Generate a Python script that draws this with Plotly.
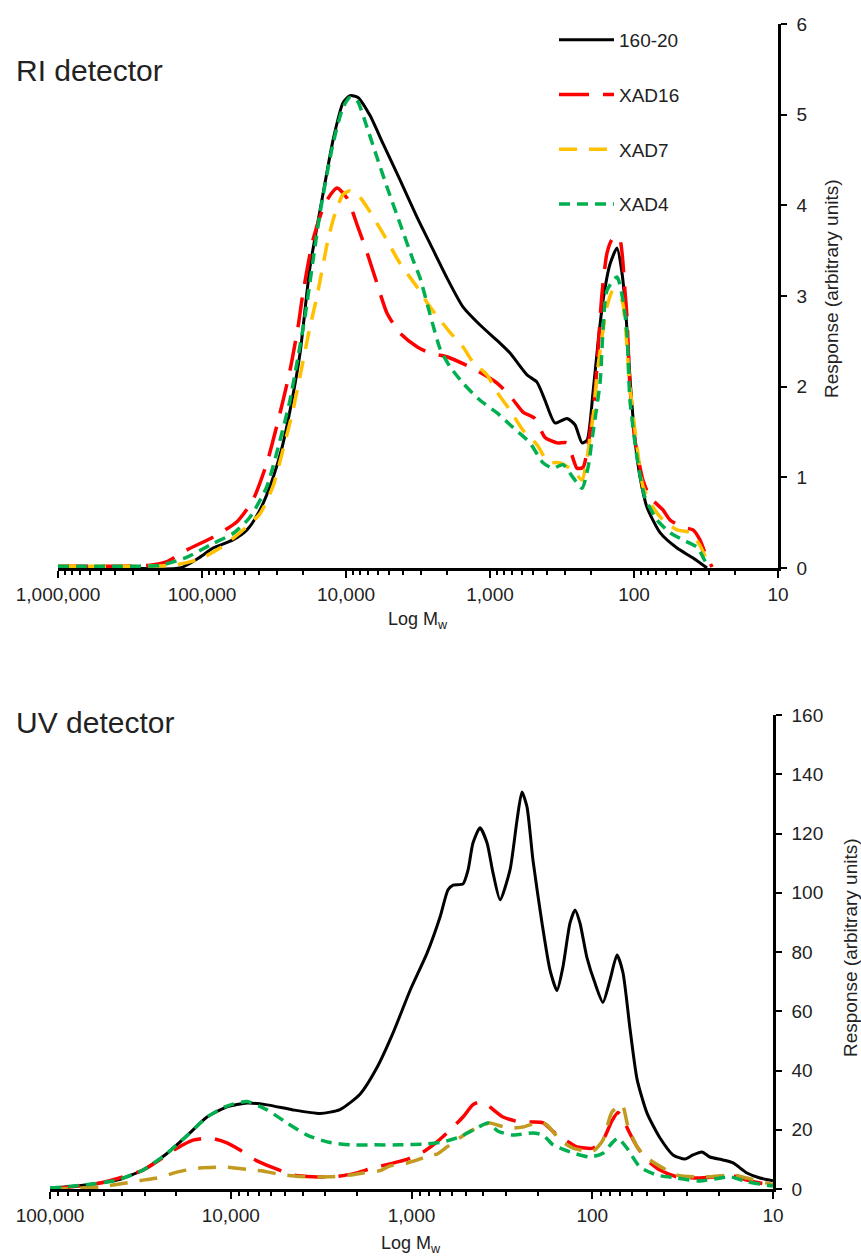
import numpy as np
import plotly.graph_objects as go

# ---------------- DATA ----------------
# RI detector (top panel): log10(Mw) positions and responses (arbitrary units)
ri_logmw_16020 = [6.0, 5.569, 5.153, 5.014, 4.924, 4.785, 4.688, 4.611, 4.528, 4.444, 4.375, 4.319, 4.25, 4.167,
                  4.090, 4.021, 3.972, 3.917, 3.833, 3.743, 3.625, 3.507, 3.417, 3.299, 3.188, 3.069, 2.951, 2.861,
                  2.743, 2.674, 2.618, 2.549, 2.465, 2.410, 2.361, 2.326, 2.285, 2.25, 2.215, 2.167, 2.118, 2.083,
                  2.056, 2.028, 1.993, 1.958, 1.910, 1.819, 1.701, 1.590, 1.493]
ri_resp_16020 = [0, 0, 0, 0.12, 0.22, 0.31, 0.42, 0.6, 0.9, 1.33, 1.85, 2.37, 3.32, 4.06, 4.72, 5.13, 5.21, 5.19,
                 4.99, 4.68, 4.28, 3.87, 3.58, 3.2, 2.88, 2.68, 2.51, 2.37, 2.13, 2.05, 1.85, 1.6, 1.65, 1.58, 1.38,
                 1.41, 1.93, 2.48, 2.95, 3.35, 3.53, 3.25, 2.8, 2.1, 1.41, 1.0, 0.67, 0.39, 0.22, 0.11, 0.0]

ri_logmw_xad16 = [6.0, 5.569, 5.361, 5.243, 5.104, 4.924, 4.757, 4.646, 4.549, 4.458, 4.389, 4.333, 4.299, 4.229,
                  4.146, 4.063, 3.993, 3.917, 3.854, 3.785, 3.715, 3.625, 3.507, 3.417, 3.299, 3.118, 2.951, 2.847,
                  2.771, 2.688, 2.618, 2.535, 2.465, 2.396, 2.354, 2.306, 2.271, 2.25, 2.222, 2.188, 2.153, 2.104,
                  2.063, 2.049, 2.028, 1.993, 1.938, 1.889, 1.799, 1.75, 1.660, 1.590, 1.542, 1.507, 1.458]
ri_resp_xad16 = [0.02, 0.02, 0.03, 0.07, 0.2, 0.34, 0.51, 0.75, 1.16, 1.71, 2.18, 2.66, 3.03, 3.62, 4.02, 4.19,
                 4.08, 3.76, 3.48, 3.14, 2.81, 2.59, 2.44, 2.37, 2.33, 2.2, 2.04, 1.87, 1.72, 1.65, 1.44, 1.38, 1.38,
                 1.1, 1.11, 1.49, 1.93, 2.4, 3.03, 3.47, 3.62, 3.65, 3.06, 2.77, 2.0, 1.41, 0.97, 0.78, 0.64, 0.53,
                 0.45, 0.42, 0.31, 0.17, 0.01]

ri_logmw_xad7 = [6.0, 5.569, 5.201, 5.014, 4.875, 4.736, 4.597, 4.507, 4.438, 4.368, 4.306, 4.25, 4.201, 4.125,
                 4.076, 4.021, 3.972, 3.924, 3.854, 3.743, 3.625, 3.507, 3.417, 3.278, 3.188, 3.118, 3.021, 2.951,
                 2.861, 2.771, 2.674, 2.597, 2.514, 2.465, 2.410, 2.361, 2.326, 2.285, 2.25, 2.188, 2.146, 2.083,
                 2.063, 2.028, 1.979, 1.938, 1.868, 1.799, 1.701, 1.611, 1.542, 1.486]
ri_resp_xad7 = [0.02, 0.02, 0.03, 0.1, 0.22, 0.39, 0.6, 0.9, 1.3, 1.74, 2.22, 2.66, 3.0, 3.62, 3.91, 4.12, 4.16,
                4.13, 3.98, 3.69, 3.36, 3.1, 2.88, 2.6, 2.44, 2.27, 2.13, 1.94, 1.74, 1.52, 1.36, 1.17, 1.16, 1.12,
                1.05, 0.97, 1.22, 1.66, 2.22, 2.88, 3.06, 2.95, 2.73, 2.0, 1.34, 0.9, 0.67, 0.53, 0.42, 0.39, 0.25,
                0.05]

ri_logmw_xad4 = [6.0, 5.569, 5.292, 5.104, 4.924, 4.785, 4.667, 4.549, 4.458, 4.389, 4.333, 4.285, 4.181, 4.090,
                 4.021, 3.972, 3.924, 3.854, 3.785, 3.715, 3.625, 3.535, 3.486, 3.417, 3.347, 3.278, 3.188, 3.069,
                 2.951, 2.840, 2.722, 2.632, 2.563, 2.493, 2.424, 2.361, 2.319, 2.285, 2.236, 2.188, 2.118, 2.076,
                 2.049, 2.028, 1.979, 1.924, 1.840, 1.75, 1.660, 1.563, 1.521, 1.486]
ri_resp_xad4 = [0.02, 0.02, 0.03, 0.12, 0.27, 0.38, 0.56, 0.9, 1.41, 1.85, 2.33, 2.77, 3.91, 4.68, 5.08, 5.19,
                5.16, 4.86, 4.53, 4.2, 3.8, 3.4, 3.2, 2.8, 2.42, 2.22, 2.04, 1.85, 1.71, 1.55, 1.38, 1.16, 1.1, 1.14,
                1.0, 0.88, 1.11, 1.49, 2.04, 3.06, 3.21, 2.95, 2.59, 1.85, 1.22, 0.78, 0.53, 0.39, 0.31, 0.23, 0.12,
                0.01]

# UV detector (bottom panel)
uv_logmw_16020 = [5.0, 4.817, 4.629, 4.485, 4.353, 4.242, 4.131, 4.021, 3.910, 3.799, 3.656, 3.506, 3.396, 3.285,
                  3.191, 3.102, 3.008, 2.914, 2.842, 2.798, 2.770, 2.715, 2.687, 2.660, 2.621, 2.582, 2.549, 2.510,
                  2.455, 2.416, 2.389, 2.361, 2.328, 2.278, 2.234, 2.195, 2.162, 2.123, 2.095, 2.068, 2.029, 1.985,
                  1.941, 1.902, 1.863, 1.830, 1.791, 1.752, 1.697, 1.625, 1.553, 1.487, 1.443, 1.393, 1.349, 1.277,
                  1.221, 1.144, 1.072, 1.0]
uv_resp_16020 = [0.3, 1.3, 3.0, 6.4, 12, 18, 24.3, 27.7, 29.0, 28.4, 26.7, 25.5, 26.8, 32, 41, 52.7, 67, 79.6,
                 91.8, 101, 102.6, 103, 107.7, 116.8, 121.9, 116.8, 106.7, 97.6, 107.7, 124.6, 134, 129, 111, 89.8,
                 74, 67, 75, 89.8, 94.2, 89.8, 78, 69.5, 63, 70.5, 79, 73, 54, 37, 25.6, 17.2, 11.5, 10.1, 11.5,
                 12.5, 10.8, 9.8, 8.8, 5.4, 3.7, 2.8]

uv_logmw_xad16 = [5.0, 4.723, 4.485, 4.297, 4.209, 4.115, 4.021, 3.949, 3.855, 3.766, 3.656, 3.545, 3.434, 3.324,
                  3.213, 3.025, 2.936, 2.859, 2.787, 2.715, 2.660, 2.621, 2.582, 2.494, 2.400, 2.328, 2.272, 2.195,
                  2.123, 2.084, 1.996, 1.941, 1.891, 1.858, 1.835, 1.802, 1.747, 1.697, 1.625, 1.531, 1.404, 1.310,
                  1.238, 1.144, 1.072, 1.0]
uv_resp_xad16 = [0.0, 2.0, 6.4, 13.8, 16.5, 17.2, 15.6, 13.2, 9.5, 7.2, 4.7, 4.1, 4.1, 5.1, 7.1, 10, 12.5, 15.9,
                 19.9, 24.3, 28.5, 29.4, 28.4, 24.3, 22.6, 22.6, 22.3, 18.2, 15.5, 14.2, 13.8, 16.5, 23, 25.8, 24.5,
                 20, 13.8, 9.8, 6.4, 4.1, 3.7, 4.1, 4.7, 3.0, 2.0, 1.3]

uv_logmw_xad7 = [5.0, 4.723, 4.485, 4.408, 4.297, 4.209, 4.170, 4.021, 3.877, 3.822, 3.744, 3.617, 3.451, 3.340,
                 3.268, 3.174, 3.119, 3.025, 2.936, 2.914, 2.859, 2.804, 2.787, 2.693, 2.604, 2.566, 2.521, 2.455,
                 2.383, 2.289, 2.250, 2.178, 2.106, 1.996, 1.941, 1.891, 1.835, 1.802, 1.747, 1.680, 1.531, 1.365,
                 1.221, 1.144, 1.033, 1.0]
uv_resp_xad7 = [0.0, 0.7, 3.0, 3.7, 5.7, 6.8, 7.1, 7.4, 6.4, 6.1, 5.1, 4.2, 4.1, 4.7, 5.4, 6.2, 7.8, 8.8, 10.5,
                11.3, 11.8, 14.2, 14.9, 18.9, 21.6, 22.3, 21.5, 20.6, 20.9, 22.6, 21.6, 16.5, 13.8, 12.8, 16.5, 26,
                28.4, 21, 13.8, 9.8, 4.7, 4.1, 4.7, 3.7, 2.0, 1.5]

uv_logmw_xad4 = [5.0, 4.817, 4.629, 4.485, 4.353, 4.242, 4.131, 4.021, 3.910, 3.799, 3.689, 3.578, 3.467, 3.340,
                 3.213, 3.064, 2.914, 2.826, 2.732, 2.638, 2.577, 2.521, 2.438, 2.328, 2.272, 2.217, 2.123, 2.012,
                 1.941, 1.885, 1.858, 1.808, 1.736, 1.642, 1.531, 1.404, 1.238, 1.144, 1.033, 1.0]
uv_resp_xad4 = [0.3, 1.3, 3.0, 6.4, 12, 18, 24.3, 28, 29.5, 26.7, 22.3, 18.2, 15.9, 14.9, 14.9, 14.9, 15.2, 15.9,
                17.6, 20.6, 22.3, 19.5, 18.2, 18.9, 18.2, 14.9, 12.5, 10.8, 12.1, 15.9, 17.2, 13.8, 7.4, 4.7, 3.7,
                2.7, 4.1, 2.4, 1.3, 1.0]

series_names = ["160-20", "XAD16", "XAD7", "XAD4"]

ri_tickvals = [1000000, 100000, 10000, 1000, 100, 10]
ri_ticktext = ["1,000,000", "100,000", "10,000", "1,000", "100", "10"]
uv_tickvals = [100000, 10000, 1000, 100, 10]
uv_ticktext = ["100,000", "10,000", "1,000", "100", "10"]

# ---------------- FIGURE ----------------
W, H = 861, 1256
FONT = "Liberation Sans, Arial, sans-serif"
TXT = "#222222"


def px_x(p):
    return p / W


def px_y(p):
    return 1 - p / H


styles = {
    "160-20": dict(color="black", width=3, dash="solid"),
    "XAD16": dict(color="#FF0000", width=3.5, dash="30px,14px"),
    "XAD7": dict(color="#FFC000", width=3.5, dash="18px,12px"),
    "XAD4": dict(color="#00B050", width=3.5, dash="11px,7px"),
}
uv_colors = {"160-20": "black", "XAD16": "#FF0000", "XAD7": "#C29A1F", "XAD4": "#00B050"}

fig = go.Figure()

ri_data = [(ri_logmw_16020, ri_resp_16020), (ri_logmw_xad16, ri_resp_xad16),
           (ri_logmw_xad7, ri_resp_xad7), (ri_logmw_xad4, ri_resp_xad4)]
uv_data = [(uv_logmw_16020, uv_resp_16020), (uv_logmw_xad16, uv_resp_xad16),
           (uv_logmw_xad7, uv_resp_xad7), (uv_logmw_xad4, uv_resp_xad4)]

for name, (lx, yv) in zip(series_names, ri_data):
    st = styles[name]
    fig.add_trace(go.Scatter(
        x=10 ** np.array(lx), y=yv, mode="lines", name=name, legendgroup=name,
        line=dict(color=st["color"], width=st["width"], dash=st["dash"], shape="spline", smoothing=0.6),
        xaxis="x", yaxis="y", showlegend=True))

for name, (lx, yv) in zip(series_names, uv_data):
    st = styles[name]
    fig.add_trace(go.Scatter(
        x=10 ** np.array(lx), y=yv, mode="lines", name=name, legendgroup=name,
        line=dict(color=uv_colors[name], width=st["width"], dash=st["dash"], shape="spline", smoothing=0.6),
        xaxis="x2", yaxis="y2", showlegend=False))


def minor_vals(lo_exp, hi_exp):
    return [m * 10 ** e for e in range(lo_exp, hi_exp) for m in range(2, 10)]


xcommon = dict(type="log", showline=True, linecolor="black", linewidth=2.5, showgrid=False, zeroline=False,
               ticks="outside", ticklen=7, tickwidth=1.5, tickcolor="black", automargin=False,
               tickfont=dict(family=FONT, size=19, color=TXT))
ycommon = dict(side="right", showline=True, linecolor="black", linewidth=2.5, showgrid=False, zeroline=False,
               ticks="outside", ticklen=6, tickwidth=2, tickcolor="black", ticklabelstandoff=6, automargin=False,
               tickfont=dict(family=FONT, size=19, color=TXT))

fig.update_layout(
    width=W, height=H, margin=dict(l=0, r=0, t=0, b=0, autoexpand=False),
    paper_bgcolor="white", plot_bgcolor="white",
    font=dict(family=FONT, color=TXT),
    xaxis=dict(domain=[px_x(58), px_x(778)], range=[6, 1], anchor="y",
               tickvals=ri_tickvals, ticktext=ri_ticktext,
               minor=dict(tickvals=minor_vals(1, 6), ticks="outside", ticklen=4, tickwidth=1.5,
                          tickcolor="black", showgrid=False),
               **xcommon),
    yaxis=dict(domain=[px_y(568), px_y(24)], range=[0, 6], dtick=1, anchor="x", **ycommon),
    xaxis2=dict(domain=[px_x(50), px_x(773)], range=[5, 1], anchor="y2",
                tickvals=uv_tickvals, ticktext=uv_ticktext,
                minor=dict(tickvals=minor_vals(1, 5), ticks="outside", ticklen=4, tickwidth=1.5,
                           tickcolor="black", showgrid=False),
                **xcommon),
    yaxis2=dict(domain=[px_y(1189), px_y(715)], range=[0, 160], dtick=20, anchor="x2", **ycommon),
    legend=dict(x=px_x(554), y=px_y(21), xanchor="left", yanchor="top", bgcolor="rgba(0,0,0,0)",
                font=dict(family=FONT, size=19, color=TXT), itemwidth=55, tracegroupgap=27,
                itemclick=False, itemdoubleclick=False),
    showlegend=True,
)

annotations = [
    dict(text="RI detector", x=px_x(14), y=px_y(70), xanchor="left", yanchor="middle",
         font=dict(size=30, family=FONT, color=TXT)),
    dict(text="UV detector", x=px_x(14), y=px_y(722), xanchor="left", yanchor="middle",
         font=dict(size=30, family=FONT, color=TXT)),
    dict(text="Log M<sub>w</sub>", x=px_x(418), y=px_y(620), xanchor="center", yanchor="middle",
         font=dict(size=18, family=FONT, color=TXT)),
    dict(text="Log M<sub>w</sub>", x=px_x(411), y=px_y(1244), xanchor="center", yanchor="middle",
         font=dict(size=18, family=FONT, color=TXT)),
    dict(text="Response (arbitrary units)", x=px_x(832), y=px_y(289), textangle=-90,
         xanchor="center", yanchor="middle", font=dict(size=19, family=FONT, color=TXT)),
    dict(text="Response (arbitrary units)", x=px_x(850), y=px_y(948), textangle=-90,
         xanchor="center", yanchor="middle", font=dict(size=19, family=FONT, color=TXT)),
]
for a in annotations:
    a.update(xref="paper", yref="paper", showarrow=False)
fig.update_layout(annotations=annotations)

fig.write_html("out.html")
